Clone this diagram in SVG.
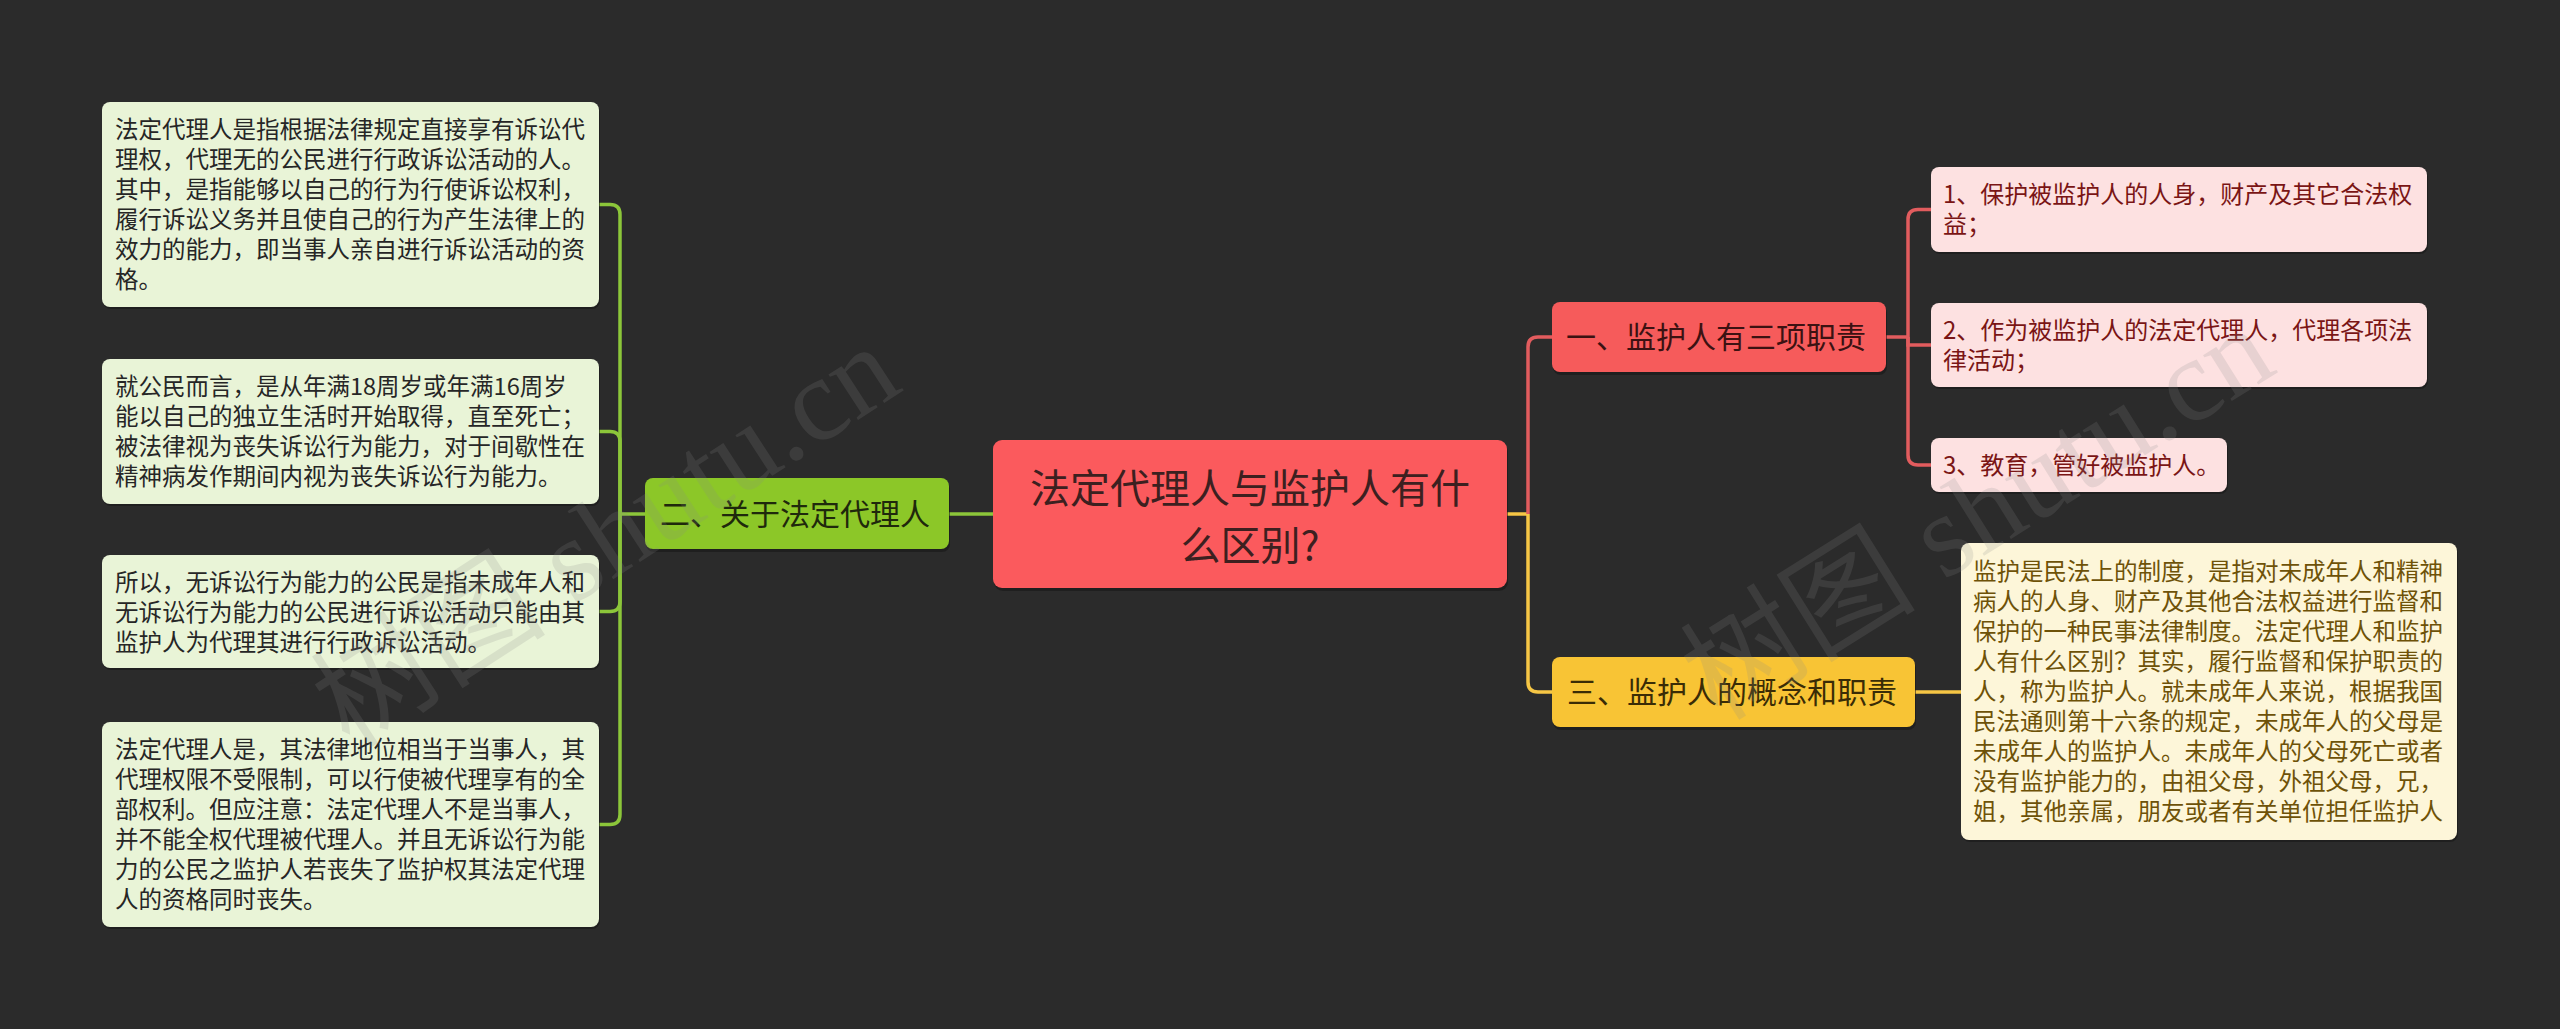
<svg xmlns="http://www.w3.org/2000/svg" width="2560" height="1029" viewBox="0 0 2560 1029">
<style>
text{font-family:"Noto Sans CJK SC","Noto Sans",sans-serif;}
.bg{fill:#2b2b2b;}
.sh{fill:#151515;opacity:0.55;}
.lf{fill:#e9f4d7;}
.lt{font-size:23.5px;fill:#262626;}
.rf{fill:#fde1e1;}
.rt{font-size:24px;fill:#7a1515;}
.yf{fill:#fdf6d9;}
.yt{font-size:23.5px;fill:#6e5208;}
.cn{fill:#fb5a5d;}
.ct{font-size:40px;fill:#3c2020;text-anchor:middle;}
.gn{fill:#8cc728;}
.gt{font-size:30px;fill:#1f290c;}
.rn{fill:#f65b5b;}
.rnt{font-size:30px;fill:#3c1212;}
.yn{fill:#f8c435;}
.ynt{font-size:30px;fill:#3a2c06;}
.cg{fill:none;stroke:#8cc63a;stroke-width:3.5;}
.cr{fill:none;stroke:#e25c5e;stroke-width:3.5;}
.cy{fill:none;stroke:#f6c645;stroke-width:3.5;}
.wm{font-family:"Liberation Serif","Noto Sans CJK SC",serif;font-size:118px;fill:#8a8a8a;opacity:0.18;}
</style>
<rect class="bg" x="0" y="0" width="2560" height="1029"/>

<g id="connectors">
  <path class="cg" d="M993,514 H949"/>
  <path class="cg" d="M645,514 H620"/>
  <path class="cg" d="M620,514 V214.5 Q620,204.5 610,204.5 H599"/>
  <path class="cg" d="M620,514 V441.5 Q620,431.5 610,431.5 H599"/>
  <path class="cg" d="M620,514 V601.5 Q620,611.5 610,611.5 H599"/>
  <path class="cg" d="M620,514 V814.5 Q620,824.5 610,824.5 H599"/>
  <path class="cy" d="M1507,514 H1528"/>
  <path class="cr" d="M1528,514 V347 Q1528,337 1538,337 H1552"/>
  <path class="cy" d="M1528,514 V682 Q1528,692 1538,692 H1552"/>
  <path class="cr" d="M1886,337 H1908"/>
  <path class="cr" d="M1908,337 V219.5 Q1908,209.5 1918,209.5 H1931"/>
  <path class="cr" d="M1908,337 V345 H1931"/>
  <path class="cr" d="M1908,337 V455 Q1908,465 1918,465 H1931"/>
  <path class="cy" d="M1915,692 H1961"/>
</g>

<g id="n-center">
  <rect class="sh" x="994" y="443" width="514" height="148" rx="9"/>
  <rect class="cn" x="993" y="440" width="514" height="148" rx="9"/>
  <text class="ct" x="1250" y="503">法定代理人与监护人有什</text>
  <text class="ct" x="1250" y="560">么区别?</text>
</g>

<g id="n-green">
  <rect class="sh" x="646" y="481" width="304" height="71" rx="8"/>
  <rect class="gn" x="645" y="478" width="304" height="71" rx="8"/>
  <text class="gt" x="660" y="525">二、关于法定代理人</text>
</g>

<g id="n-g1">
  <rect class="sh" x="103" y="104" width="497" height="205" rx="8"/>
  <rect class="lf" x="102" y="102" width="497" height="205" rx="8"/>
  <text class="lt" x="115" y="138">法定代理人是指根据法律规定直接享有诉讼代</text>
  <text class="lt" x="115" y="168">理权，代理无的公民进行行政诉讼活动的人。</text>
  <text class="lt" x="115" y="198">其中，是指能够以自己的行为行使诉讼权利，</text>
  <text class="lt" x="115" y="228">履行诉讼义务并且使自己的行为产生法律上的</text>
  <text class="lt" x="115" y="258">效力的能力，即当事人亲自进行诉讼活动的资</text>
  <text class="lt" x="115" y="288">格。</text>
</g>

<g id="n-g2">
  <rect class="sh" x="103" y="361" width="497" height="145" rx="8"/>
  <rect class="lf" x="102" y="359" width="497" height="145" rx="8"/>
  <text class="lt" x="115" y="395">就公民而言，是从年满18周岁或年满16周岁</text>
  <text class="lt" x="115" y="425">能以自己的独立生活时开始取得，直至死亡；</text>
  <text class="lt" x="115" y="455">被法律视为丧失诉讼行为能力，对于间歇性在</text>
  <text class="lt" x="115" y="485">精神病发作期间内视为丧失诉讼行为能力。</text>
</g>

<g id="n-g3">
  <rect class="sh" x="103" y="557" width="497" height="113" rx="8"/>
  <rect class="lf" x="102" y="555" width="497" height="113" rx="8"/>
  <text class="lt" x="115" y="591">所以，无诉讼行为能力的公民是指未成年人和</text>
  <text class="lt" x="115" y="621">无诉讼行为能力的公民进行诉讼活动只能由其</text>
  <text class="lt" x="115" y="651">监护人为代理其进行行政诉讼活动。</text>
</g>

<g id="n-g4">
  <rect class="sh" x="103" y="724" width="497" height="205" rx="8"/>
  <rect class="lf" x="102" y="722" width="497" height="205" rx="8"/>
  <text class="lt" x="115" y="758">法定代理人是，其法律地位相当于当事人，其</text>
  <text class="lt" x="115" y="788">代理权限不受限制，可以行使被代理享有的全</text>
  <text class="lt" x="115" y="818">部权利。但应注意：法定代理人不是当事人，</text>
  <text class="lt" x="115" y="848">并不能全权代理被代理人。并且无诉讼行为能</text>
  <text class="lt" x="115" y="878">力的公民之监护人若丧失了监护权其法定代理</text>
  <text class="lt" x="115" y="908">人的资格同时丧失。</text>
</g>

<g id="n-red">
  <rect class="sh" x="1553" y="305" width="334" height="70" rx="8"/>
  <rect class="rn" x="1552" y="302" width="334" height="70" rx="8"/>
  <text class="rnt" x="1566" y="348">一、监护人有三项职责</text>
</g>

<g id="n-r1">
  <rect class="sh" x="1932" y="169" width="496" height="85" rx="8"/>
  <rect class="rf" x="1931" y="167" width="496" height="85" rx="8"/>
  <text class="rt" x="1943" y="203">1、保护被监护人的人身，财产及其它合法权</text>
  <text class="rt" x="1943" y="233">益；</text>
</g>

<g id="n-r2">
  <rect class="sh" x="1932" y="305" width="496" height="84" rx="8"/>
  <rect class="rf" x="1931" y="303" width="496" height="84" rx="8"/>
  <text class="rt" x="1943" y="339">2、作为被监护人的法定代理人，代理各项法</text>
  <text class="rt" x="1943" y="369">律活动；</text>
</g>

<g id="n-r3">
  <rect class="sh" x="1932" y="440" width="296" height="54" rx="8"/>
  <rect class="rf" x="1931" y="438" width="296" height="54" rx="8"/>
  <text class="rt" x="1943" y="474">3、教育，管好被监护人。</text>
</g>

<g id="n-yellow">
  <rect class="sh" x="1553" y="660" width="363" height="70" rx="8"/>
  <rect class="yn" x="1552" y="657" width="363" height="70" rx="8"/>
  <text class="ynt" x="1567" y="703">三、监护人的概念和职责</text>
</g>

<g id="n-y1">
  <rect class="sh" x="1962" y="545" width="496" height="297" rx="8"/>
  <rect class="yf" x="1961" y="543" width="496" height="297" rx="8"/>
  <text class="yt" x="1973" y="580">监护是民法上的制度，是指对未成年人和精神</text>
  <text class="yt" x="1973" y="610">病人的人身、财产及其他合法权益进行监督和</text>
  <text class="yt" x="1973" y="640">保护的一种民事法律制度。法定代理人和监护</text>
  <text class="yt" x="1973" y="670">人有什么区别？其实，履行监督和保护职责的</text>
  <text class="yt" x="1973" y="700">人，称为监护人。就未成年人来说，根据我国</text>
  <text class="yt" x="1973" y="730">民法通则第十六条的规定，未成年人的父母是</text>
  <text class="yt" x="1973" y="760">未成年人的监护人。未成年人的父母死亡或者</text>
  <text class="yt" x="1973" y="790">没有监护能力的，由祖父母，外祖父母，兄，</text>
  <text class="yt" x="1973" y="820">姐，其他亲属，朋友或者有关单位担任监护人</text>
</g>

<g id="watermarks">
  <text class="wm" transform="translate(350,750) rotate(-33)">树图 shutu.cn</text>
  <text class="wm" transform="translate(1718,722) rotate(-32)">树图 shutu.cn</text>
</g>
</svg>
